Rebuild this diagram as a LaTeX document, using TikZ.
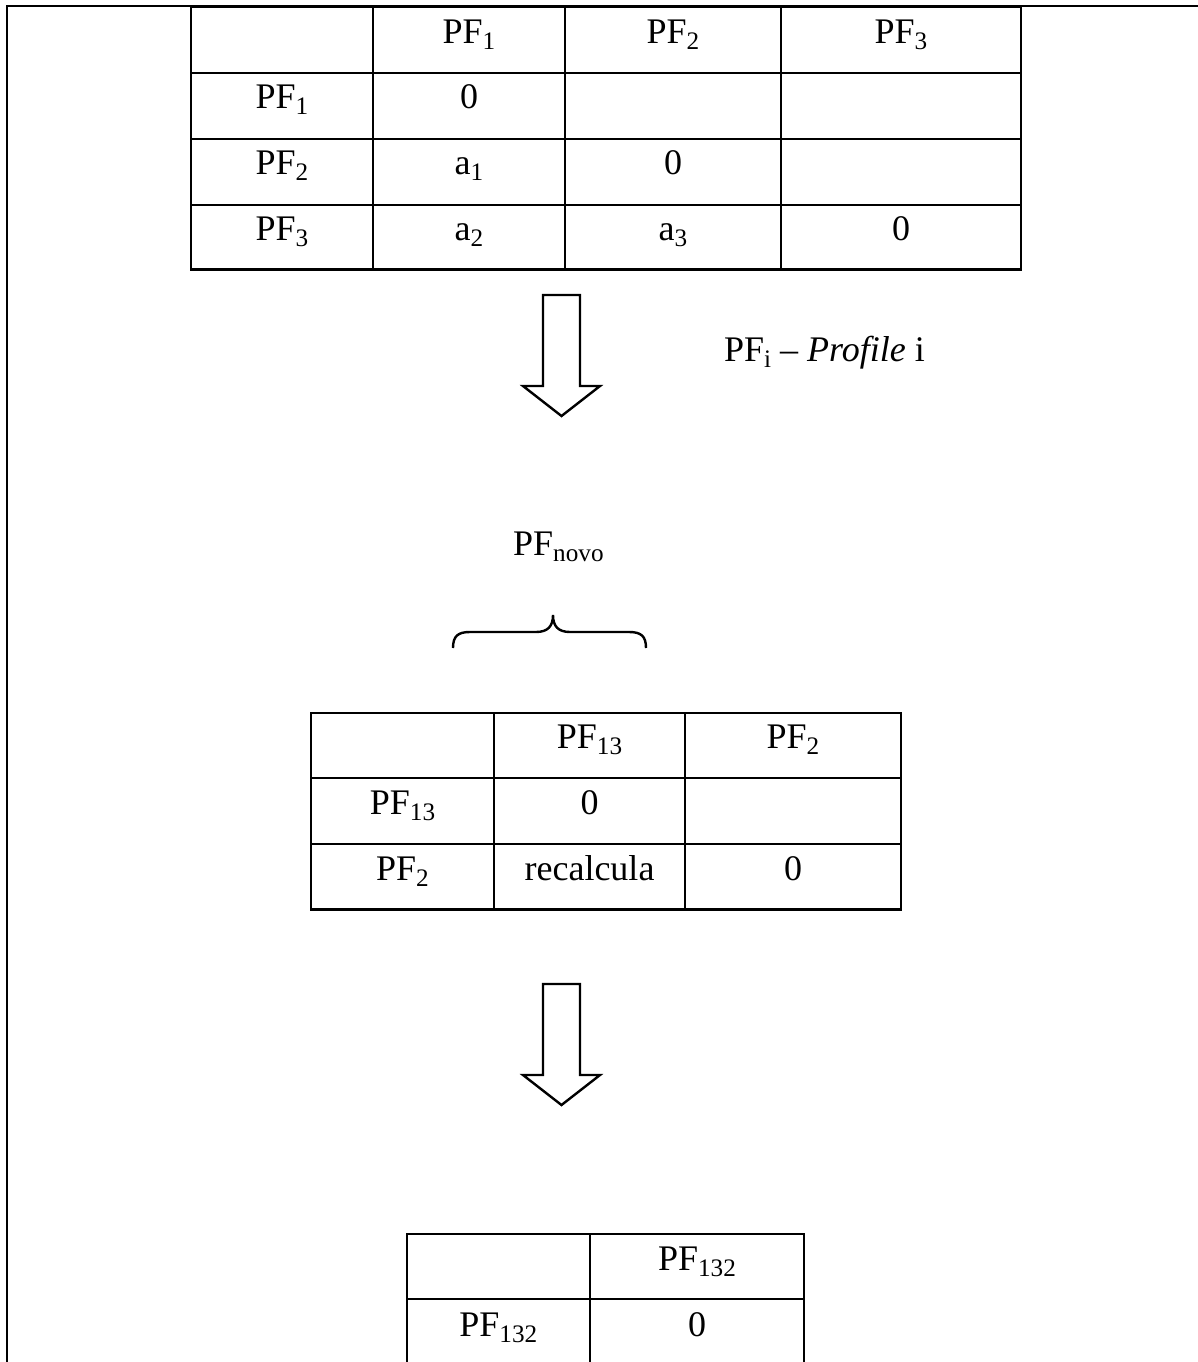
\documentclass[tikz,border=0pt]{standalone}
\usepackage{fontspec}
\setmainfont{Liberation Serif}
\usetikzlibrary{positioning}

% name with a lowered index, e.g. PF_1
\newcommand{\ix}[2]{#1\raisebox{-3pt}{\fontsize{12.6}{14}\selectfont #2}}
\newcommand{\pf}[1]{\ix{PF}{#1}}

\begin{document}
\begin{tikzpicture}[x=0.5pt,y=-0.5pt,line width=1.2pt,line cap=rect,
    cell/.style={anchor=base,inner sep=0pt,font=\fontsize{18}{21}\selectfont},
    note/.style={anchor=base west,inner sep=0pt,font=\fontsize{18}{21}\selectfont},
    blockarrow/.style={draw,line width=1.2pt,fill=white,line join=miter}]

  \useasboundingbox (0,0) rectangle (1198,1362);

  % frame
  \draw (7,1362) -- (7,6) -- (1198,6);

  % first matrix: 3 profiles
  \foreach \y in {7,72.7,138.7,204.7,269.3} \draw (190.7,\y) -- (1021,\y);
  \foreach \x in {190.7,373,565,781,1021} \draw (\x,7) -- (\x,269.3);

  \node[cell] (ah1) at (469,43) {\pf{1}};
  \node[cell] (ah2) at (673,43) {\pf{2}};
  \node[cell] (ah3) at (901,43) {\pf{3}};
  \node[cell] (ar1) at (282,108.7) {\pf{1}};
  \node[cell] (ar2) at (282,174.7) {\pf{2}};
  \node[cell] (ar3) at (282,240.7) {\pf{3}};
  \node[cell] (a11) at (469,108.7) {0};
  \node[cell] (a21) at (469,174.7) {\ix{a}{1}};
  \node[cell] (a22) at (673,174.7) {0};
  \node[cell] (a31) at (469,240.7) {\ix{a}{2}};
  \node[cell] (a32) at (673,240.7) {\ix{a}{3}};
  \node[cell] (a33) at (901,240.7) {0};

  % arrows down
  \foreach \t in {295,984}
    \draw[blockarrow] (543,\t) -- (580,\t) -- (580,\t+91) -- (600,\t+91)
      -- (561.5,\t+121) -- (523,\t+91) -- (543,\t+91) -- cycle;

  \node[note] (legend) at (723,361) {\pf{i} -- \textit{Profile} i};

  % merged profile
  \node[note] (novo) at (512,555) {\pf{novo}};
  \draw[line cap=butt] (453,648) .. controls (453,636) and (458,632) .. (470,632) -- (536,632)
    .. controls (548,632) and (553,626) .. (553,615)
    .. controls (553,626) and (558,632) .. (570,632) -- (629,632)
    .. controls (641,632) and (646,636) .. (646,648);

  % second matrix
  \foreach \y in {712.7,778,844,909.3} \draw (311,\y) -- (901,\y);
  \foreach \x in {311,494,685,901} \draw (\x,712.7) -- (\x,909.3);

  \node[cell] (bh1) at (589.5,748.7) {\pf{13}};
  \node[cell] (bh2) at (793,748.7) {\pf{2}};
  \node[cell] (br1) at (402.5,814) {\pf{13}};
  \node[cell] (br2) at (402.5,880) {\pf{2}};
  \node[cell] (b11) at (589.5,814) {0};
  \node[cell] (b21) at (589.5,880) {recalcula};
  \node[cell] (b22) at (793,880) {0};

  % third matrix, runs off the bottom
  \foreach \y in {1234,1299} \draw (406.7,\y) -- (804,\y);
  \foreach \x in {406.7,590,804} \draw (\x,1234) -- (\x,1364);

  \node[cell] (ch1) at (697,1270) {\pf{132}};
  \node[cell] (cr1) at (498.3,1336) {\pf{132}};
  \node[cell] (c11) at (697,1336) {0};
\end{tikzpicture}
\end{document}
